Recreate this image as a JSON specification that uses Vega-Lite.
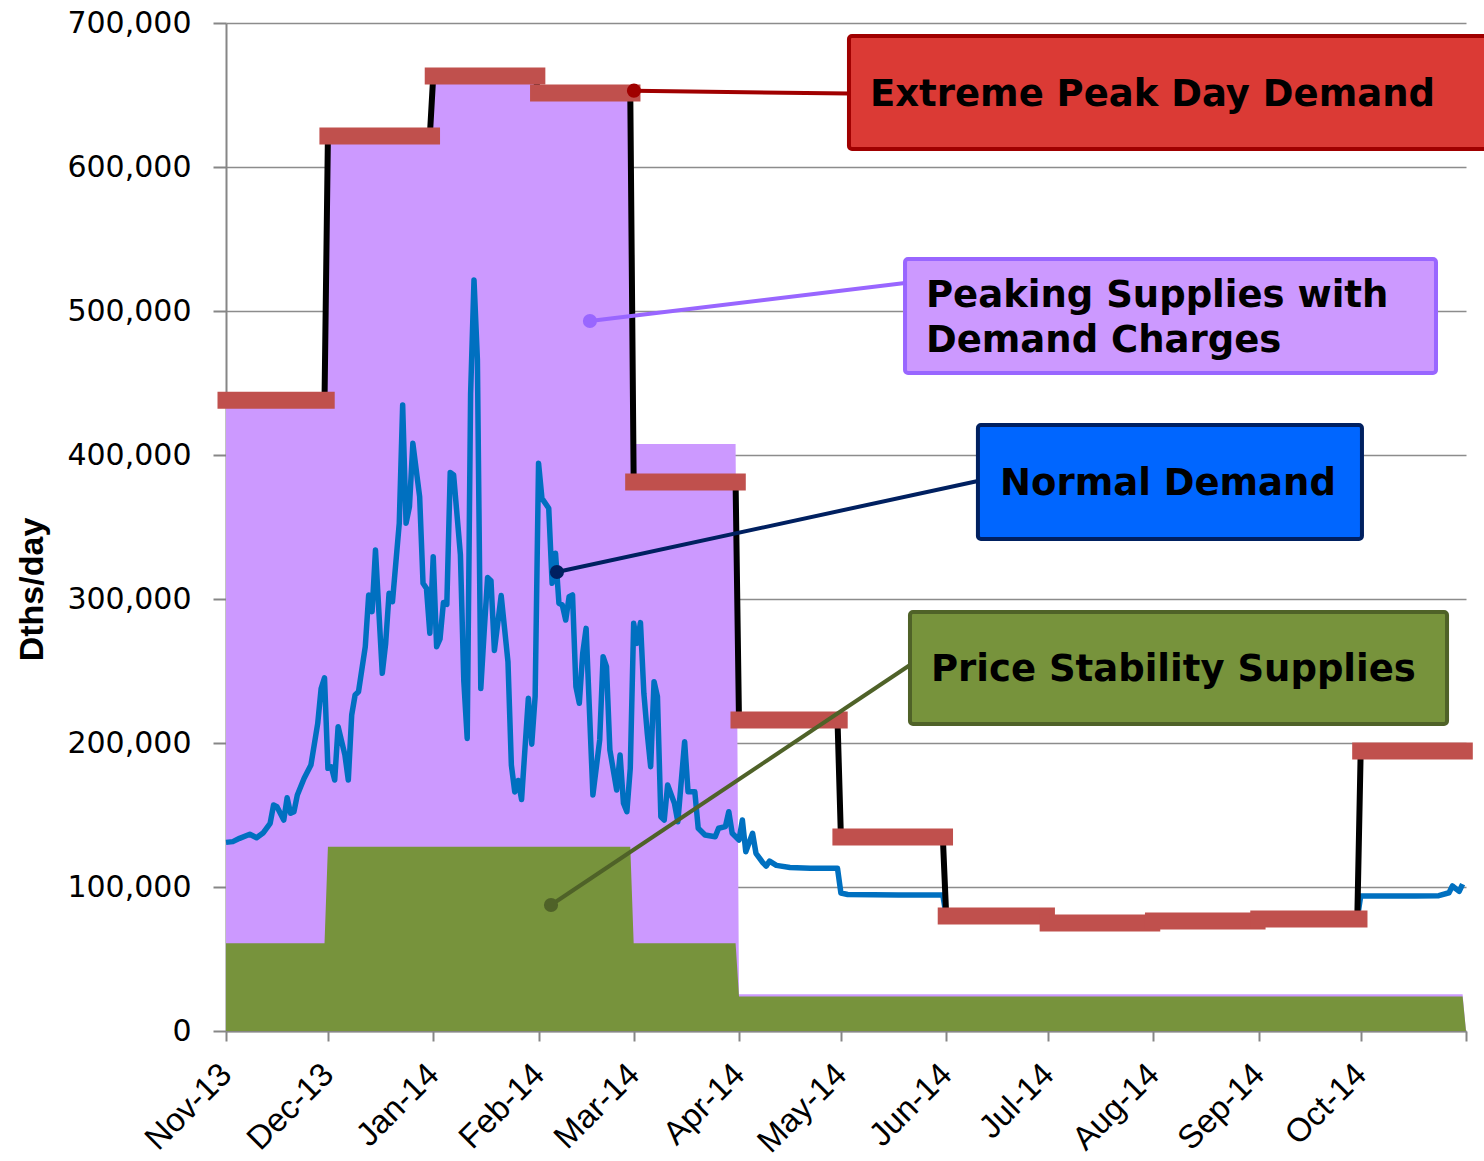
{
  "$schema": "https://vega.github.io/schema/vega-lite/v6.json",
  "width": 1240,
  "height": 1008,
  "autosize": {"type": "none"},
  "padding": {"left": 226, "top": 23, "right": 18, "bottom": 130},
  "background": "white",
  "config": {"view": {"stroke": null}},
  "datasets": {
    "peaking": [
      {"date": "2013-11-01", "v": 438000}, {"date": "2013-11-30", "v": 438000},
      {"date": "2013-12-01", "v": 621500}, {"date": "2013-12-31", "v": 621500},
      {"date": "2014-01-01", "v": 663200}, {"date": "2014-01-31", "v": 663200},
      {"date": "2014-02-01", "v": 651400}, {"date": "2014-02-28", "v": 651400},
      {"date": "2014-03-01", "v": 407600}, {"date": "2014-03-31", "v": 407600},
      {"date": "2014-04-01", "v": 25500}, {"date": "2014-10-31", "v": 25500},
      {"date": "2014-11-01", "v": 0}
    ],
    "price": [
      {"date": "2013-11-01", "v": 61000}, {"date": "2013-11-30", "v": 61000},
      {"date": "2013-12-01", "v": 128000}, {"date": "2014-02-28", "v": 128000},
      {"date": "2014-03-01", "v": 61000}, {"date": "2014-03-31", "v": 61000},
      {"date": "2014-04-01", "v": 24000}, {"date": "2014-10-31", "v": 24000},
      {"date": "2014-11-01", "v": 0}
    ],
    "demand": [
      {"date": "2013-11-01", "v": 131000}, {"date": "2013-11-03", "v": 131500}, {"date": "2013-11-05", "v": 133800},
      {"date": "2013-11-08", "v": 136600}, {"date": "2013-11-10", "v": 134200}, {"date": "2013-11-12", "v": 137700},
      {"date": "2013-11-14", "v": 144200}, {"date": "2013-11-15", "v": 157000}, {"date": "2013-11-16", "v": 155800},
      {"date": "2013-11-18", "v": 146500}, {"date": "2013-11-19", "v": 162000}, {"date": "2013-11-20", "v": 151200},
      {"date": "2013-11-21", "v": 152300}, {"date": "2013-11-22", "v": 163900}, {"date": "2013-11-24", "v": 175500},
      {"date": "2013-11-26", "v": 184700}, {"date": "2013-11-28", "v": 213600}, {"date": "2013-11-29", "v": 237800},
      {"date": "2013-11-30", "v": 245300}, {"date": "2013-12-01", "v": 182400}, {"date": "2013-12-02", "v": 183500},
      {"date": "2013-12-03", "v": 174300}, {"date": "2013-12-04", "v": 211300}, {"date": "2013-12-06", "v": 191700},
      {"date": "2013-12-07", "v": 174300}, {"date": "2013-12-08", "v": 219400}, {"date": "2013-12-09", "v": 233300},
      {"date": "2013-12-10", "v": 235600}, {"date": "2013-12-12", "v": 266900}, {"date": "2013-12-13", "v": 302800},
      {"date": "2013-12-14", "v": 291200}, {"date": "2013-12-15", "v": 334000}, {"date": "2013-12-17", "v": 248400},
      {"date": "2013-12-18", "v": 269200}, {"date": "2013-12-19", "v": 304000}, {"date": "2013-12-20", "v": 298100},
      {"date": "2013-12-22", "v": 352600}, {"date": "2013-12-23", "v": 434700}, {"date": "2013-12-24", "v": 352600},
      {"date": "2013-12-25", "v": 364100}, {"date": "2013-12-26", "v": 408100}, {"date": "2013-12-28", "v": 371000},
      {"date": "2013-12-29", "v": 310900}, {"date": "2013-12-30", "v": 307400}, {"date": "2013-12-31", "v": 276200},
      {"date": "2014-01-01", "v": 329400}, {"date": "2014-01-02", "v": 266900}, {"date": "2014-01-03", "v": 272300},
      {"date": "2014-01-04", "v": 297600}, {"date": "2014-01-05", "v": 296300}, {"date": "2014-01-06", "v": 387900},
      {"date": "2014-01-07", "v": 386100}, {"date": "2014-01-09", "v": 330800}, {"date": "2014-01-10", "v": 243000},
      {"date": "2014-01-11", "v": 203200}, {"date": "2014-01-12", "v": 442400}, {"date": "2014-01-13", "v": 521600},
      {"date": "2014-01-14", "v": 466300}, {"date": "2014-01-15", "v": 237800}, {"date": "2014-01-16", "v": 277600},
      {"date": "2014-01-17", "v": 314900}, {"date": "2014-01-18", "v": 312700}, {"date": "2014-01-19", "v": 264300},
      {"date": "2014-01-21", "v": 302400}, {"date": "2014-01-23", "v": 256400}, {"date": "2014-01-24", "v": 184600},
      {"date": "2014-01-25", "v": 166000}, {"date": "2014-01-26", "v": 174000}, {"date": "2014-01-27", "v": 160700},
      {"date": "2014-01-29", "v": 231100}, {"date": "2014-01-30", "v": 199200}, {"date": "2014-01-31", "v": 232500},
      {"date": "2014-02-01", "v": 394200}, {"date": "2014-02-02", "v": 369900}, {"date": "2014-02-04", "v": 363000},
      {"date": "2014-02-05", "v": 310900}, {"date": "2014-02-06", "v": 331700}, {"date": "2014-02-07", "v": 297000},
      {"date": "2014-02-08", "v": 295800}, {"date": "2014-02-09", "v": 285400}, {"date": "2014-02-10", "v": 301600},
      {"date": "2014-02-11", "v": 302800}, {"date": "2014-02-12", "v": 239100}, {"date": "2014-02-13", "v": 227600},
      {"date": "2014-02-14", "v": 262300}, {"date": "2014-02-15", "v": 279600}, {"date": "2014-02-17", "v": 163900},
      {"date": "2014-02-19", "v": 202100}, {"date": "2014-02-20", "v": 259900}, {"date": "2014-02-21", "v": 253000},
      {"date": "2014-02-22", "v": 195100}, {"date": "2014-02-24", "v": 167400}, {"date": "2014-02-25", "v": 191700},
      {"date": "2014-02-26", "v": 158100}, {"date": "2014-02-27", "v": 152300}, {"date": "2014-02-28", "v": 182400},
      {"date": "2014-03-01", "v": 283100}, {"date": "2014-03-02", "v": 269200}, {"date": "2014-03-03", "v": 283600},
      {"date": "2014-03-04", "v": 234500}, {"date": "2014-03-05", "v": 206700}, {"date": "2014-03-06", "v": 183500},
      {"date": "2014-03-07", "v": 242600}, {"date": "2014-03-08", "v": 232200}, {"date": "2014-03-09", "v": 148800},
      {"date": "2014-03-10", "v": 146500}, {"date": "2014-03-11", "v": 170800}, {"date": "2014-03-13", "v": 158100},
      {"date": "2014-03-14", "v": 145300}, {"date": "2014-03-16", "v": 200900}, {"date": "2014-03-17", "v": 166200},
      {"date": "2014-03-19", "v": 166200}, {"date": "2014-03-20", "v": 140800}, {"date": "2014-03-22", "v": 136100},
      {"date": "2014-03-25", "v": 134900}, {"date": "2014-03-26", "v": 140800}, {"date": "2014-03-28", "v": 141900},
      {"date": "2014-03-29", "v": 152300}, {"date": "2014-03-30", "v": 137300}, {"date": "2014-04-01", "v": 132600},
      {"date": "2014-04-02", "v": 146500}, {"date": "2014-04-03", "v": 124500}, {"date": "2014-04-05", "v": 137300},
      {"date": "2014-04-06", "v": 123400}, {"date": "2014-04-08", "v": 117000}, {"date": "2014-04-09", "v": 114500},
      {"date": "2014-04-10", "v": 118000}, {"date": "2014-04-12", "v": 115000}, {"date": "2014-04-16", "v": 113500},
      {"date": "2014-04-22", "v": 113000}, {"date": "2014-04-30", "v": 113000}, {"date": "2014-05-01", "v": 95800},
      {"date": "2014-05-03", "v": 94800}, {"date": "2014-05-18", "v": 94400}, {"date": "2014-05-31", "v": 94400},
      {"date": "2014-06-01", "v": 80000}, {"date": "2014-06-30", "v": 80000}, {"date": "2014-07-01", "v": 76000},
      {"date": "2014-07-31", "v": 76000}, {"date": "2014-08-01", "v": 76500}, {"date": "2014-08-31", "v": 76500},
      {"date": "2014-09-01", "v": 78000}, {"date": "2014-09-30", "v": 78000}, {"date": "2014-10-01", "v": 93700},
      {"date": "2014-10-17", "v": 93700}, {"date": "2014-10-24", "v": 94000}, {"date": "2014-10-27", "v": 96000},
      {"date": "2014-10-28", "v": 100700}, {"date": "2014-10-30", "v": 97000}, {"date": "2014-10-31", "v": 102000}
    ],
    "peakline": [
      {"date": "2013-11-01", "v": 438000}, {"date": "2013-11-30", "v": 438000},
      {"date": "2013-12-01", "v": 621500}, {"date": "2013-12-31", "v": 621500},
      {"date": "2014-01-01", "v": 663200}, {"date": "2014-01-31", "v": 663200},
      {"date": "2014-02-01", "v": 651400}, {"date": "2014-02-28", "v": 651400},
      {"date": "2014-03-01", "v": 381250}, {"date": "2014-03-31", "v": 381250},
      {"date": "2014-04-01", "v": 216000}, {"date": "2014-04-30", "v": 216000},
      {"date": "2014-05-01", "v": 134700}, {"date": "2014-05-31", "v": 134700},
      {"date": "2014-06-01", "v": 79900}, {"date": "2014-06-30", "v": 79900},
      {"date": "2014-07-01", "v": 75000}, {"date": "2014-07-31", "v": 75000},
      {"date": "2014-08-01", "v": 76400}, {"date": "2014-08-31", "v": 76400},
      {"date": "2014-09-01", "v": 77800}, {"date": "2014-09-30", "v": 77800},
      {"date": "2014-10-01", "v": 194400}, {"date": "2014-10-31", "v": 194400}
    ],
    "peakbars": [
      {"date": "2013-11-01", "date2": "2013-11-30T12:00Z", "v": 438000},
      {"date": "2013-12-01", "date2": "2013-12-31T12:00Z", "v": 621500},
      {"date": "2014-01-01", "date2": "2014-01-31T12:00Z", "v": 663200},
      {"date": "2014-02-01", "date2": "2014-02-28T12:00Z", "v": 651400},
      {"date": "2014-03-01", "date2": "2014-03-31T12:00Z", "v": 381250},
      {"date": "2014-04-01", "date2": "2014-04-30T12:00Z", "v": 216000},
      {"date": "2014-05-01", "date2": "2014-05-31T12:00Z", "v": 134700},
      {"date": "2014-06-01", "date2": "2014-06-30T12:00Z", "v": 79900},
      {"date": "2014-07-01", "date2": "2014-07-31T12:00Z", "v": 75000},
      {"date": "2014-08-01", "date2": "2014-08-31T12:00Z", "v": 76400},
      {"date": "2014-09-01", "date2": "2014-09-30T12:00Z", "v": 77800},
      {"date": "2014-10-01", "date2": "2014-10-31T12:00Z", "v": 194400}
    ],
    "links": [
      {"label": "Extreme Peak Day Demand", "date": "2014-03-01T02:00Z", "v": 653000, "date2": "2014-05-03T09:00Z", "v2": 651000},
      {"label": "Peaking Supplies", "date": "2014-02-16T03:00Z", "v": 493060, "date2": "2014-05-19T21:00Z", "v2": 519440},
      {"label": "Normal Demand", "date": "2014-02-06T10:00Z", "v": 318750, "date2": "2014-06-10T08:00Z", "v2": 381940},
      {"label": "Price Stability Supplies", "date": "2014-02-04T16:00Z", "v": 87500, "date2": "2014-05-21T08:00Z", "v2": 254170}
    ],
    "boxes": [
      {"label": "Extreme Peak Day Demand", "date": "2014-05-03T09:00Z", "date2": "2014-11-09T12:00Z", "v": 690970, "v2": 612500},
      {"label": "Peaking Supplies", "date": "2014-05-19T21:00Z", "date2": "2014-10-23T04:00Z", "v": 536110, "v2": 456940},
      {"label": "Normal Demand", "date": "2014-06-10T08:00Z", "date2": "2014-10-01T09:00Z", "v": 420830, "v2": 341670},
      {"label": "Price Stability Supplies", "date": "2014-05-21T08:00Z", "date2": "2014-10-26T10:00Z", "v": 290970, "v2": 213190}
    ],
    "texts": [
      {"text": "Extreme Peak Day Demand", "date": "2014-05-09T13:00Z", "v": 650000},
      {"text": "Peaking Supplies with\nDemand Charges", "date": "2014-05-26T01:00Z", "v": 510400},
      {"text": "Normal Demand", "date": "2014-06-16T20:00Z", "v": 379860},
      {"text": "Price Stability Supplies", "date": "2014-05-27T12:00Z", "v": 250690}
    ]
  },
  "encoding": {
    "x": {"field": "date", "type": "temporal",
      "scale": {"type": "utc", "domain": [{"year": 2013, "month": 11, "date": 1, "utc": true}, {"year": 2014, "month": 11, "date": 1, "utc": true}]},
      "axis": {
        "values": [
          {"year": 2013, "month": 11, "date": 1, "utc": true}, {"year": 2013, "month": 12, "date": 1, "utc": true},
          {"year": 2014, "month": 1, "date": 1, "utc": true}, {"year": 2014, "month": 2, "date": 1, "utc": true},
          {"year": 2014, "month": 3, "date": 1, "utc": true}, {"year": 2014, "month": 4, "date": 1, "utc": true},
          {"year": 2014, "month": 5, "date": 1, "utc": true}, {"year": 2014, "month": 6, "date": 1, "utc": true},
          {"year": 2014, "month": 7, "date": 1, "utc": true}, {"year": 2014, "month": 8, "date": 1, "utc": true},
          {"year": 2014, "month": 9, "date": 1, "utc": true}, {"year": 2014, "month": 10, "date": 1, "utc": true},
          {"year": 2014, "month": 11, "date": 1, "utc": true}
        ],
        "format": "%b-%y",
        "labelExpr": "datum.value >= 1414800000000 ? '' : datum.label",
        "labelAngle": -45, "labelAlign": "right", "labelBaseline": "middle",
        "labelFont": "Liberation Sans", "labelFontSize": 33, "labelColor": "#000000",
        "labelPadding": 28, "labelOverlap": false, "labelBound": false, "labelFlush": false,
        "tickSize": 10, "tickColor": "#868686", "tickWidth": 2,
        "domainColor": "#868686", "domainWidth": 2, "grid": false, "title": null
      }
    },
    "y": {"field": "v", "type": "quantitative",
      "scale": {"domain": [0, 700000], "nice": false},
      "axis": {
        "values": [0, 100000, 200000, 300000, 400000, 500000, 600000, 700000],
        "format": ",.0f",
        "labelFont": "DejaVu Sans", "labelFontSize": 30, "labelColor": "#000000", "labelPadding": 22,
        "labelBound": false, "labelFlush": false,
        "tickSize": 13, "tickColor": "#868686", "tickWidth": 2,
        "domainColor": "#868686", "domainWidth": 2,
        "grid": true, "gridColor": "#8C8C8C", "gridWidth": 1.5,
        "title": "Dths/day", "titleFont": "Liberation Sans", "titleFontSize": 34, "titleFontWeight": "bold",
        "titleColor": "#000000", "titleAngle": -90, "titleX": -194, "titleY": 566,
        "titleAlign": "center", "titleBaseline": "middle"
      }
    }
  },
  "layer": [
    {"data": {"name": "peaking"}, "mark": {"type": "area", "color": "#CC99FF"}},
    {"data": {"name": "price"}, "mark": {"type": "area", "color": "#77933C"}},
    {"data": {"name": "demand"}, "mark": {"type": "line", "color": "#0070C0", "strokeWidth": 5.5, "strokeJoin": "round"}},
    {"data": {"name": "peakline"}, "mark": {"type": "line", "color": "#000000", "strokeWidth": 6}},
    {"data": {"name": "peakbars"}, "mark": {"type": "rule", "color": "#C0504D", "strokeWidth": 17, "strokeCap": "square"},
      "encoding": {"x2": {"field": "date2"}}},
    {"data": {"name": "links"}, "mark": {"type": "rule", "strokeWidth": 4},
      "encoding": {
        "x2": {"field": "date2"}, "y2": {"field": "v2"},
        "stroke": {"field": "label", "type": "nominal", "legend": null,
          "scale": {"domain": ["Extreme Peak Day Demand", "Peaking Supplies", "Normal Demand", "Price Stability Supplies"], "range": ["#A00000", "#9966FF", "#002060", "#4F6228"]}}
      }
    },
    {"data": {"name": "links"}, "mark": {"type": "point", "filled": true, "size": 200, "opacity": 1},
      "encoding": {
        "color": {"field": "label", "type": "nominal", "legend": null,
          "scale": {"domain": ["Extreme Peak Day Demand", "Peaking Supplies", "Normal Demand", "Price Stability Supplies"], "range": ["#A00000", "#9966FF", "#002060", "#4F6228"]}}
      }
    },
    {"data": {"name": "boxes"}, "mark": {"type": "rect", "strokeWidth": 4, "cornerRadius": 3},
      "encoding": {
        "x2": {"field": "date2"}, "y2": {"field": "v2"},
        "fill": {"field": "label", "type": "nominal", "legend": null,
          "scale": {"domain": ["Extreme Peak Day Demand", "Peaking Supplies", "Normal Demand", "Price Stability Supplies"], "range": ["#DB3A35", "#CC99FF", "#0066FF", "#77933C"]}},
        "stroke": {"field": "label", "type": "nominal", "legend": null}
      }
    },
    {"data": {"name": "texts"}, "mark": {"type": "text", "align": "left", "baseline": "middle", "font": "DejaVu Sans", "fontWeight": "bold", "fontSize": 37, "color": "#000000", "lineBreak": "\n", "lineHeight": 45},
      "encoding": {"text": {"field": "text"}}
    }
  ]
}
